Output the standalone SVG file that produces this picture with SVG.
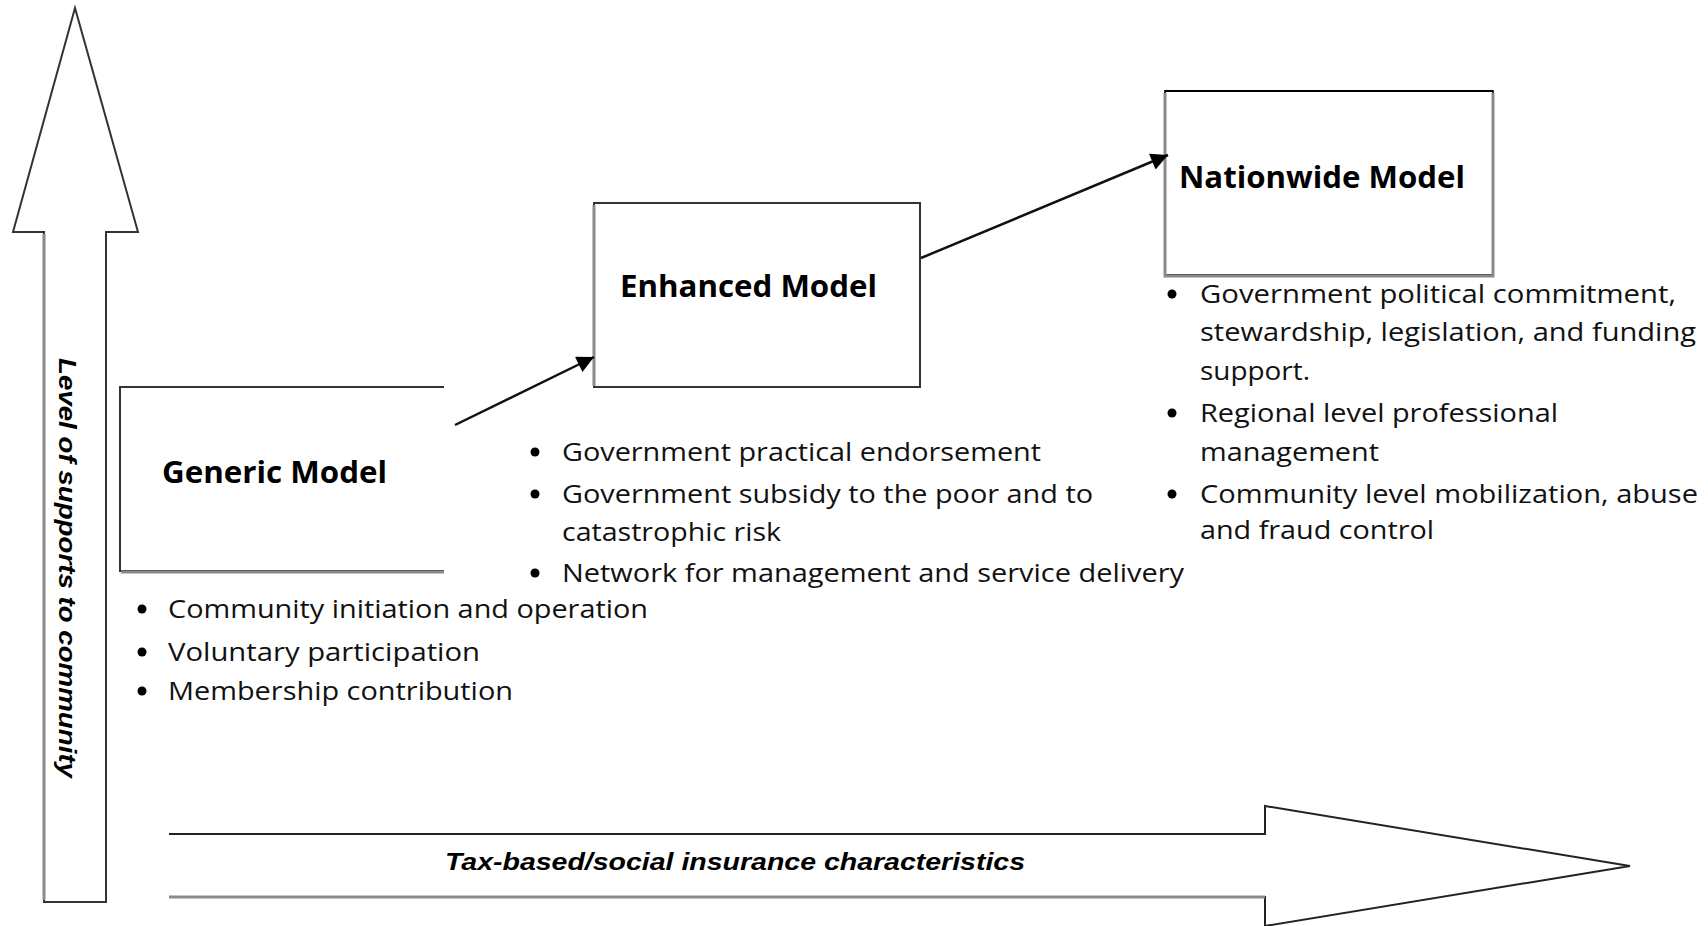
<svg xmlns="http://www.w3.org/2000/svg" width="1708" height="926" viewBox="0 0 1708 926">
  <style>
    .shape { fill: #ffffff; stroke: #333333; stroke-width: 2; }
    .shade { fill: none; stroke: #8a8a8a; stroke-width: 3; }
    .title { font-family: "Open Sans", "Liberation Sans", sans-serif; font-weight: bold; font-size: 30px; fill: #000000; }
    .item { font-family: "Open Sans", "Liberation Sans", sans-serif; font-size: 25px; fill: #111111; }
    .axis { font-family: "Liberation Sans", "DejaVu Sans", sans-serif; font-weight: bold; font-style: italic; font-size: 24px; fill: #000000; }
    .bullet { fill: #000000; }
    .conn { stroke: #111111; stroke-width: 2.5; fill: none; }
  </style>
  <defs>
    <marker id="arrow" viewBox="0 0 10 10" markerUnits="userSpaceOnUse" markerWidth="20" markerHeight="17" refX="10" refY="5" orient="auto">
      <path d="M0,0 L10,5 L0,10 Z" fill="#000000"/>
    </marker>
  </defs>
  <rect x="0" y="0" width="1708" height="926" fill="#ffffff"/>

  <g id="axis-vertical">
    <path class="shape" d="M44,902 V232 H13 L75,8 L138,232 H106 V902 Z"/>
    <line class="shade" x1="44" y1="234" x2="44" y2="900"/>
    <text class="axis" transform="translate(59,358) rotate(90)" x="0" y="0" textLength="420" lengthAdjust="spacingAndGlyphs">Level of supports to community</text>
  </g>

  <g id="axis-horizontal">
    <path d="M169,834 H1265 V806 L1630,866 L1265,926 V897 H169" fill="#ffffff" stroke="#222222" stroke-width="2"/>
    <line class="shade" x1="169" y1="897" x2="1265" y2="897"/>
    <text class="axis" x="445" y="870" textLength="580" lengthAdjust="spacingAndGlyphs">Tax-based/social insurance characteristics</text>
  </g>

  <g id="generic-model">
    <path d="M444,387 H120 V571 H444" fill="#ffffff" stroke="#333333" stroke-width="2"/>
    <line class="shade" x1="121" y1="572" x2="444" y2="572"/>
    <text class="title" x="162" y="483" textLength="225" lengthAdjust="spacingAndGlyphs">Generic Model</text>
    <circle class="bullet" cx="142" cy="609" r="4.5"/>
    <text class="item" x="168" y="618" textLength="480" lengthAdjust="spacingAndGlyphs">Community initiation and operation</text>
    <circle class="bullet" cx="142" cy="652" r="4.5"/>
    <text class="item" x="168" y="661" textLength="312" lengthAdjust="spacingAndGlyphs">Voluntary participation</text>
    <circle class="bullet" cx="142" cy="691" r="4.5"/>
    <text class="item" x="168" y="700" textLength="345" lengthAdjust="spacingAndGlyphs">Membership contribution</text>
  </g>

  <g id="enhanced-model">
    <rect class="shape" x="594" y="203" width="326" height="184"/>
    <line class="shade" x1="594" y1="205" x2="594" y2="386"/>
    <text class="title" x="620" y="297" textLength="257" lengthAdjust="spacingAndGlyphs">Enhanced Model</text>
    <circle class="bullet" cx="535" cy="452" r="4.5"/>
    <text class="item" x="562" y="461" textLength="479" lengthAdjust="spacingAndGlyphs">Government practical endorsement</text>
    <circle class="bullet" cx="535" cy="494" r="4.5"/>
    <text class="item" x="562" y="503" textLength="531" lengthAdjust="spacingAndGlyphs">Government subsidy to the poor and to</text>
    <text class="item" x="562" y="541" textLength="219" lengthAdjust="spacingAndGlyphs">catastrophic risk</text>
    <circle class="bullet" cx="535" cy="573" r="4.5"/>
    <text class="item" x="562" y="582" textLength="622" lengthAdjust="spacingAndGlyphs">Network for management and service delivery</text>
  </g>

  <g id="nationwide-model">
    <rect class="shape" x="1165" y="91" width="328" height="184"/>
    <path class="shade" d="M1165,93 V276 H1493 V93"/>
    <line x1="1165" y1="91" x2="1493" y2="91" stroke="#000000" stroke-width="2"/>
    <text class="title" x="1179" y="188" textLength="286" lengthAdjust="spacingAndGlyphs">Nationwide Model</text>
    <circle class="bullet" cx="1172" cy="294" r="4.5"/>
    <text class="item" x="1200" y="303" textLength="476" lengthAdjust="spacingAndGlyphs">Government political commitment,</text>
    <text class="item" x="1200" y="341" textLength="496" lengthAdjust="spacingAndGlyphs">stewardship, legislation, and funding</text>
    <text class="item" x="1200" y="380" textLength="110" lengthAdjust="spacingAndGlyphs">support.</text>
    <circle class="bullet" cx="1172" cy="413" r="4.5"/>
    <text class="item" x="1200" y="422" textLength="358" lengthAdjust="spacingAndGlyphs">Regional level professional</text>
    <text class="item" x="1200" y="461" textLength="179" lengthAdjust="spacingAndGlyphs">management</text>
    <circle class="bullet" cx="1172" cy="494" r="4.5"/>
    <text class="item" x="1200" y="503" textLength="498" lengthAdjust="spacingAndGlyphs">Community level mobilization, abuse</text>
    <text class="item" x="1200" y="539" textLength="234" lengthAdjust="spacingAndGlyphs">and fraud control</text>
  </g>

  <g id="connectors">
    <line class="conn" x1="455" y1="425" x2="594" y2="357" marker-end="url(#arrow)"/>
    <line class="conn" x1="921" y1="258" x2="1168" y2="155" marker-end="url(#arrow)"/>
  </g>
</svg>
